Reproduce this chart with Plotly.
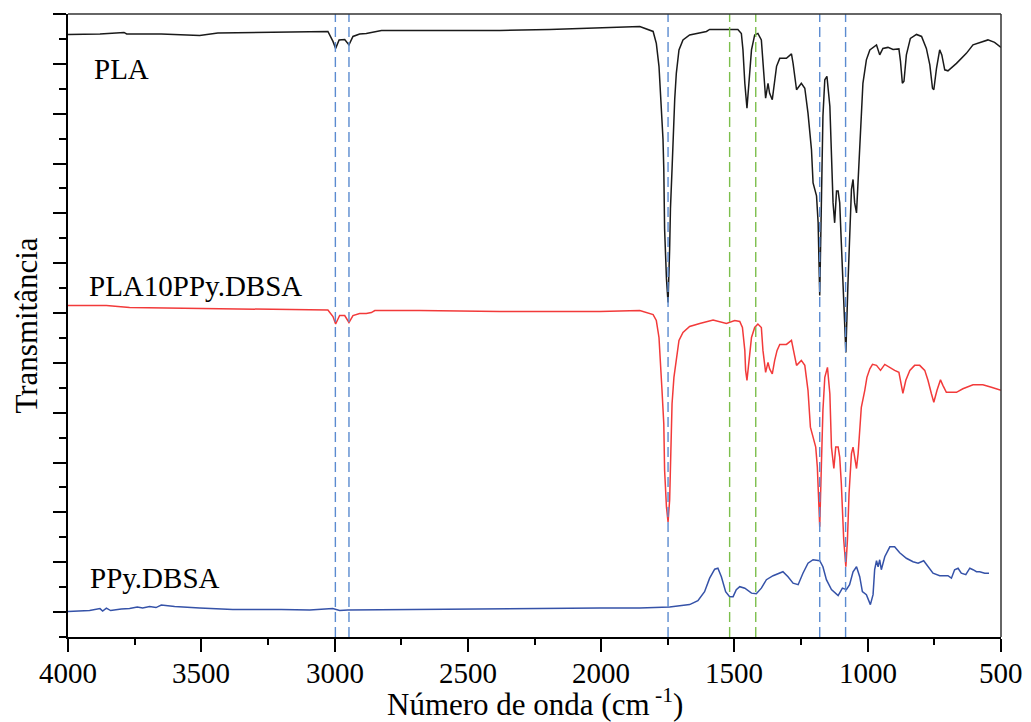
import plotly.graph_objects as go

# FTIR spectra (wavenumber in cm-1, transmittance in arbitrary stacked units)
pla_wn = [4000, 3880, 3790, 3780, 3650, 3506, 3438, 3200, 3025, 3006, 2996, 2983, 2962, 2946,
          2931, 2906, 2881, 2824, 2380, 2193, 2005, 1855, 1805, 1793, 1783, 1774, 1768, 1765,
          1762, 1755, 1749, 1743, 1740, 1734, 1730, 1724, 1718, 1708, 1693, 1668, 1605, 1593,
          1487, 1474, 1468, 1461, 1453, 1445, 1436, 1424, 1412, 1399, 1393, 1383, 1374, 1368,
          1358, 1349, 1342, 1330, 1305, 1286, 1280, 1267, 1249, 1236, 1224, 1211, 1205, 1192,
          1186, 1180, 1174, 1168, 1161, 1153, 1142, 1136, 1130, 1124, 1117, 1111, 1105, 1099,
          1090, 1082, 1074, 1068, 1061, 1055, 1049, 1042, 1036, 1030, 1024, 1018, 1005, 992,
          967, 955, 943, 924, 905, 883, 877, 870, 864, 855, 840, 817, 798, 780, 767, 757, 752,
          742, 730, 722, 711, 699, 667, 630, 605, 580, 549, 524, 505, 500]
pla_t = [115.9, 116.0, 116.3, 116.0, 116.0, 115.7, 116.2, 116.3, 116.5, 114.5, 113.1, 114.8,
         114.9, 113.8, 115.5, 116.0, 116.1, 116.7, 116.7, 116.9, 117.3, 117.5, 116.5, 114.1,
         109.5, 102.1, 94.9, 88.9, 76.9, 66.9, 62.1, 72.9, 80.9, 88.9, 96.1, 102.9, 108.1,
         112.8, 114.8, 115.8, 116.5, 116.9, 116.9, 116.1, 112.8, 106.1, 101.1, 106.1, 112.8,
         115.8, 116.1, 114.8, 110.1, 103.1, 106.1, 104.1, 102.8, 106.1, 109.5, 111.1, 111.1,
         112.0, 110.1, 104.8, 106.1, 105.1, 100.1, 92.8, 86.1, 83.5, 78.1, 63.5, 79.5, 99.5,
         106.8, 107.5, 101.5, 89.5, 82.1, 78.1, 84.5, 84.5, 82.1, 74.1, 60.8, 52.1, 66.1, 76.8,
         84.8, 86.8, 82.1, 80.1, 86.1, 92.8, 99.5, 106.1, 110.8, 112.8, 113.8, 111.8, 113.1,
         113.3, 112.9, 113.0, 110.5, 106.1, 106.5, 111.8, 115.1, 115.9, 115.5, 113.1, 109.8,
         105.1, 104.8, 109.1, 112.8, 111.8, 108.8, 108.6, 110.1, 112.1, 113.8, 114.3, 114.8,
         114.3, 113.5, 113.3]

blend_wn = [4000, 3880, 3856, 3769, 3600, 3525, 3468, 3356, 3131, 3025, 3006, 2996, 2981, 2962,
            2946, 2931, 2906, 2881, 2862, 2849, 2681, 2380, 2005, 1855, 1805, 1793, 1783, 1777,
            1772, 1765, 1762, 1755, 1749, 1743, 1739, 1734, 1727, 1718, 1708, 1693, 1668, 1630,
            1580, 1530, 1499, 1480, 1470, 1461, 1458, 1453, 1445, 1436, 1424, 1412, 1399, 1393,
            1383, 1374, 1368, 1358, 1349, 1340, 1330, 1305, 1286, 1278, 1267, 1249, 1236, 1224,
            1215, 1205, 1195, 1189, 1180, 1174, 1168, 1161, 1151, 1142, 1136, 1127, 1120, 1111,
            1105, 1099, 1090, 1082, 1076, 1070, 1061, 1055, 1049, 1042, 1036, 1030, 1024, 1011,
            1003, 992, 982, 967, 952, 936, 917, 899, 883, 874, 868, 857, 842, 824, 805, 786, 774,
            761, 752, 740, 727, 718, 705, 667, 643, 605, 568, 536, 505, 500]
blend_t = [61.5, 61.6, 61.5, 61.1, 61.0, 60.9, 61.0, 60.8, 60.7, 60.6, 59.3, 57.8, 59.5, 59.5,
           58.1, 59.5, 59.9, 59.9, 60.1, 60.5, 60.5, 60.3, 60.3, 60.5, 59.7, 58.5, 55.1, 50.5,
           44.8, 37.8, 28.5, 21.1, 18.1, 22.5, 31.8, 41.8, 47.1, 51.1, 54.5, 56.1, 57.3, 57.9,
           58.6, 57.9, 58.5, 58.3, 57.1, 52.5, 48.5, 46.5, 50.5, 55.1, 57.1, 57.8, 57.1, 52.5,
           48.1, 50.1, 48.8, 47.8, 50.5, 52.5, 53.7, 53.7, 54.5, 52.5, 49.5, 50.5, 49.5, 44.5,
           37.1, 35.1, 33.1, 29.1, 17.1, 29.1, 40.5, 47.1, 49.1, 43.8, 33.1, 28.8, 33.1, 33.1,
           31.1, 25.8, 14.5, 9.1, 14.5, 23.8, 31.8, 33.1, 31.1, 28.8, 31.8, 35.8, 41.1, 44.5,
           47.1, 48.8, 49.7, 49.5, 48.5, 49.7, 49.0, 48.5, 48.1, 45.8, 43.9, 46.5, 48.5, 49.5,
           49.5, 48.5, 46.5, 43.8, 42.1, 44.5, 46.6, 45.5, 44.1, 44.1, 44.8, 45.6, 45.6, 45.1,
           44.6, 44.5]

ppy_wn = [4000, 3919, 3880, 3870, 3856, 3840, 3800, 3769, 3740, 3720, 3694, 3670, 3650, 3631,
          3600, 3506, 3382, 3200, 3093, 3007, 2981, 2950, 2756, 2380, 2005, 1855, 1743, 1668,
          1637, 1612, 1593, 1574, 1562, 1549, 1533, 1518, 1505, 1493, 1480, 1461, 1436, 1418,
          1399, 1380, 1355, 1318, 1299, 1280, 1261, 1243, 1224, 1205, 1180, 1168, 1155, 1136,
          1111, 1095, 1080, 1068, 1055, 1042, 1030, 1020, 1005, 990, 980, 974, 967, 961, 955,
          949, 936, 917, 899, 880, 855, 830, 811, 790, 774, 755, 730, 699, 686, 674, 661, 649,
          632, 617, 605, 592, 580, 561, 545]
ppy_t = [0.1, 0.3, 0.7, 0.2, 0.8, 0.3, 0.6, 0.7, 1.0, 0.8, 1.1, 0.9, 1.4, 1.3, 1.1, 0.8, 0.5,
         0.5, 0.4, 0.7, 0.3, 0.4, 0.5, 0.7, 0.8, 0.8, 1.0, 1.5, 2.3, 4.1, 6.8, 8.6, 8.8, 7.1, 4.1,
         3.1, 3.1, 4.5, 5.1, 4.8, 3.8, 3.7, 4.8, 6.5, 7.3, 8.1, 7.1, 5.8, 5.5, 7.8, 9.8, 10.5,
         10.3, 9.1, 6.5, 4.5, 3.3, 4.8, 4.5, 5.5, 8.1, 9.1, 7.1, 4.1, 3.5, 1.5, 3.5, 8.5, 10.3,
         9.1, 10.5, 8.5, 11.1, 13.1, 13.1, 11.9, 10.8, 10.1, 9.8, 10.3, 9.1, 7.8, 7.3, 7.3, 6.8,
         8.5, 8.8, 7.8, 7.5, 8.8, 8.5, 8.1, 8.1, 7.8, 7.8]

series_names = ["PLA", "PLA10PPy.DBSA", "PPy.DBSA"]
series_colors = ["#1a1a1a", "#f23a3a", "#3552a8"]

# band positions marked with dashed guides (cm-1)
bands_blue = [2997, 2946, 1749, 1180, 1083]
bands_green = [1518, 1420]

# label anchor points (cm-1, stacked transmittance)
label_wn = [3911, 3930, 3926]
label_t = [108.9, 65.5, 6.9]

# wavenumber tick values and their labels
x_ticks = [4000, 3500, 3000, 2500, 2000, 1500, 1000, 500]
x_tick_text = [str(v) for v in x_ticks]

SERIF = "Liberation Serif"

fig = go.Figure()
for wn, t, name, col in zip([pla_wn, blend_wn, ppy_wn], [pla_t, blend_t, ppy_t],
                            series_names, series_colors):
    fig.add_trace(go.Scatter(x=wn, y=t, mode="lines", name=name,
                             line=dict(color=col, width=1.5)))

shapes = []
for b in bands_blue:
    shapes.append(dict(type="line", xref="x", yref="paper", x0=b, x1=b, y0=0, y1=1,
                       line=dict(color="#5b8bd0", width=1.4, dash="10px,5px")))
for b in bands_green:
    shapes.append(dict(type="line", xref="x", yref="paper", x0=b, x1=b, y0=0, y1=1,
                       line=dict(color="#7cbf4c", width=1.4, dash="10px,5px")))
# thin frame on top and right
shapes.append(dict(type="line", xref="paper", yref="paper", x0=0, x1=1, y0=1, y1=1,
                   line=dict(color="#333333", width=1.5)))
shapes.append(dict(type="line", xref="paper", yref="paper", x0=1, x1=1, y0=0, y1=1,
                   line=dict(color="#333333", width=1.5)))

annotations = []
# series labels
for name, x, y in zip(series_names, label_wn, label_t):
    annotations.append(dict(x=x, y=y, xref="x", yref="y", text=name, showarrow=False,
                            xanchor="left", yanchor="middle",
                            font=dict(family=SERIF, size=29, color="black")))
# wavenumber tick labels, set in the serif face below the axis ticks
for v, txt in zip(x_ticks, x_tick_text):
    annotations.append(dict(x=v, y=0, xref="x", yref="paper", text=txt, showarrow=False,
                            xanchor="center", yanchor="top", yshift=-18,
                            font=dict(family=SERIF, size=29, color="black")))
# x axis title
annotations.append(dict(x=0.5, y=0, xref="paper", yref="paper",
                        text="Número de onda (cm<sup> -1</sup>)", showarrow=False,
                        xanchor="center", yanchor="top", yshift=-44,
                        font=dict(family=SERIF, size=31, color="black")))

fig.update_layout(
    template="none",
    width=1031, height=722,
    margin=dict(l=68, r=30, t=14, b=85),
    paper_bgcolor="white", plot_bgcolor="white",
    showlegend=False,
    shapes=shapes,
    annotations=annotations,
    font=dict(family=SERIF, size=29, color="black"),
)

fig.update_xaxes(
    range=[4000, 500], tickmode="array", tickvals=x_ticks,
    ticks="outside", ticklen=13, tickwidth=2, tickcolor="black",
    showticklabels=False,
    showline=True, linewidth=2, linecolor="black",
    showgrid=False, zeroline=False,
    minor=dict(ticks="outside", ticklen=6, tickwidth=2, tickcolor="black",
               dtick=250, tick0=750, showgrid=False),
)
fig.update_yaxes(
    range=[-5, 120], tickmode="linear", tick0=0, dtick=10,
    ticks="outside", ticklen=13, tickwidth=2, tickcolor="black",
    showticklabels=False,
    showline=True, linewidth=2, linecolor="black",
    showgrid=False, zeroline=False,
    minor=dict(ticks="outside", ticklen=7, tickwidth=2, tickcolor="black",
               dtick=10, tick0=5, showgrid=False),
    title=dict(text="Transmitância",
               font=dict(family=SERIF, size=31, color="black"), standoff=6),
)

fig.write_html("out.html")
